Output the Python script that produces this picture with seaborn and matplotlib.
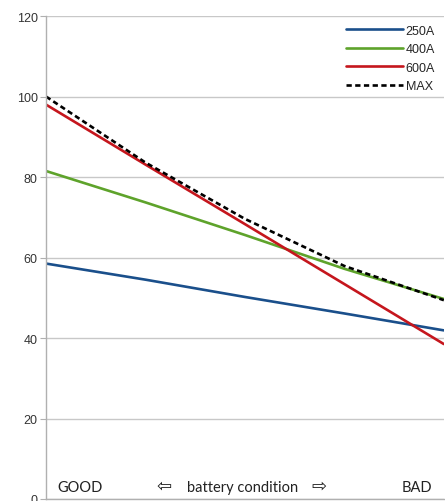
import numpy as np
import pandas as pd
import matplotlib
matplotlib.use('Agg')
import matplotlib.pyplot as plt
import seaborn as sns

# battery condition positions (0 = GOOD, 1 = BAD)
condition = [0.0, 0.25, 0.5, 0.75, 1.0]

amp_250 = [58.5, 54.5, 50.2, 46.1, 41.9]
amp_400 = [81.5, 73.7, 65.6, 57.2, 49.7]
amp_600 = [98.0, 83.1, 68.3, 53.4, 38.5]
amp_max = [100.0, 83.6, 69.6, 57.9, 49.4]

series_names = ['250A', '400A', '600A', 'MAX']
colors = ['#1a4f8b', '#5ea32b', '#c5161d', '#000000']
yticks = [0, 20, 40, 60, 80, 100, 120]

df = pd.DataFrame({
    'condition': condition * 4,
    'value': amp_250 + amp_400 + amp_600 + amp_max,
    'series': np.repeat(series_names, len(condition)),
})

sns.set_style('white')
plt.rcParams['font.family'] = ['Liberation Sans', 'DejaVu Sans']

fig = plt.figure(figsize=(4.45, 5.02), dpi=100)
ax = fig.add_axes([0.1034, 0.004, 0.894, 0.962])

for name, col in zip(series_names, colors):
    sub = df[df['series'] == name]
    sns.lineplot(data=sub, x='condition', y='value', ax=ax, color=col,
                 linewidth=1.9, label=name,
                 linestyle=(0, (2, 1.3)) if name == 'MAX' else '-')

ax.set_xlim(0, 1)
ax.set_ylim(0, 120)
ax.set_yticks(yticks)
ax.set_xticks([])
ax.set_xlabel('')
ax.set_ylabel('')
ax.grid(axis='y', color='#c8c8c8', linewidth=1)
ax.tick_params(axis='y', left=True, length=4, color='#b0b0b0',
               labelsize=9, labelcolor='#333333', pad=2)
for s in ['top', 'right']:
    ax.spines[s].set_visible(False)
for s in ['left', 'bottom']:
    ax.spines[s].set_color('#b0b0b0')
    ax.spines[s].set_linewidth(1)

leg = ax.legend(loc='upper right', frameon=False, fontsize=9, handlelength=4.5,
                handletextpad=0.25, labelspacing=0.52, borderaxespad=0.3)

# labels along the bottom of the plot
txt_font = ['Lato', 'DejaVu Sans']
ax.text(0.028, 2.0, 'GOOD', fontsize=10.5, family=txt_font, color='#222222')
ax.text(0.278, 2.0, '\u21e6', fontsize=13, family='DejaVu Sans', color='#222222')
ax.text(0.494, 2.0, 'battery condition', fontsize=10.5, family=txt_font,
        color='#222222', ha='center')
ax.text(0.667, 2.0, '\u21e8', fontsize=13, family='DejaVu Sans', color='#222222')
ax.text(0.972, 2.0, 'BAD', fontsize=10.5, family=txt_font, color='#222222', ha='right')

fig.savefig('out.png', dpi=100)
